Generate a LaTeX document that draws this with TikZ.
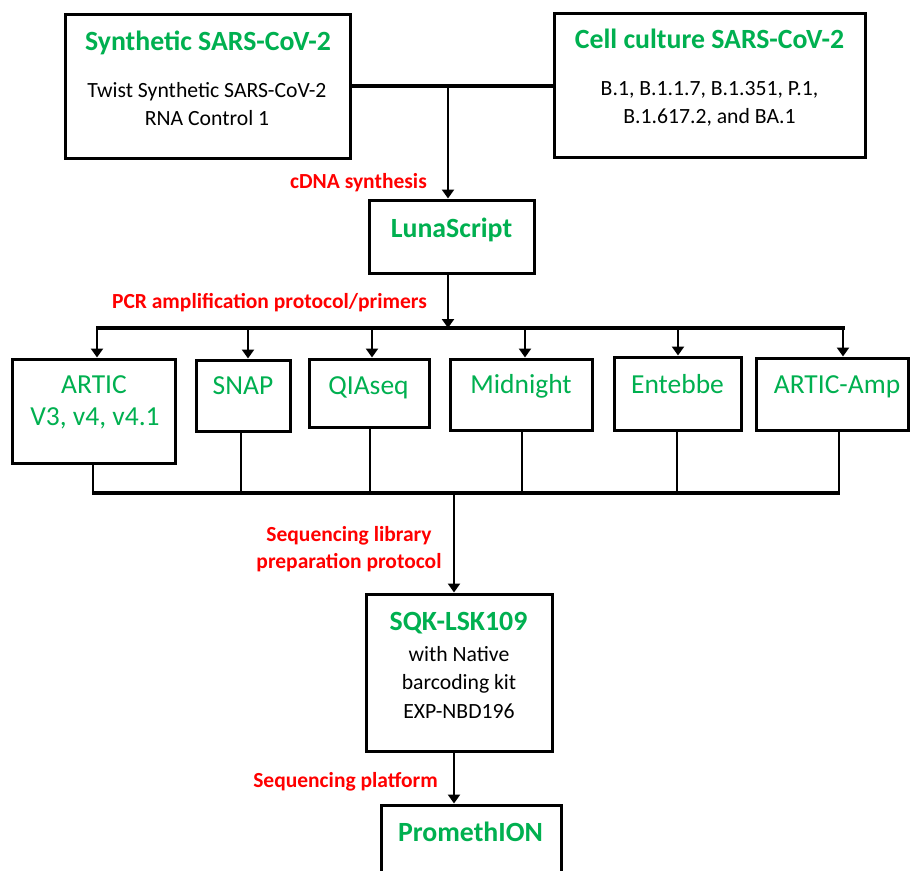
\documentclass[tikz,border=0pt]{standalone}
\usepackage{fontspec}
\setmainfont{Carlito}
\usetikzlibrary{arrows.meta}
\definecolor{ggreen}{RGB}{0,176,80}
\definecolor{rred}{RGB}{255,0,0}
\begin{document}
\begin{tikzpicture}[x=1pt,y=-1pt,
  box/.style={draw, line width=3pt, inner sep=0pt, fill=white},
  ttl/.style={text=ggreen, font=\fontsize{27.8}{33}\selectfont\bfseries, anchor=base, inner sep=0pt},
  prim/.style={text=ggreen, font=\fontsize{27.5}{33}\selectfont, anchor=base, inner sep=0pt},
  body/.style={font=\fontsize{21.7}{28}\selectfont, anchor=base, inner sep=0pt},
  lbl/.style={text=rred, font=\fontsize{21.5}{27}\selectfont\bfseries, inner sep=0pt},
  arr/.style={line width=2.8pt, -{Triangle[width=12pt,length=9pt]}},
  link/.style={line width=4pt},
  bus/.style={line width=3.5pt},
  riser/.style={line width=2pt}]
\clip (0,0) rectangle (910,870);
\fill[white] (0,0) rectangle (910,870);

% boxes
\node[box, minimum width=285pt, minimum height=144pt] (syn) at (207.5,86) {};
\node[box, minimum width=311pt, minimum height=144pt] (cell) at (709.5,85) {};
\node[box, minimum width=165pt, minimum height=73pt] (luna) at (451.5,236.5) {};
\node[box, minimum width=163pt, minimum height=104pt] (artic) at (93.5,411) {};
\node[box, minimum width=94pt, minimum height=71pt] (snap) at (243,395.5) {};
\node[box, minimum width=120pt, minimum height=68pt] (qia) at (369,393) {};
\node[box, minimum width=142pt, minimum height=71pt] (mid) at (521,394.5) {};
\node[box, minimum width=127pt, minimum height=73pt] (ent) at (677.5,393.5) {};
\node[box, minimum width=152pt, minimum height=72pt] (amp) at (832,394) {};
\node[box, minimum width=186pt, minimum height=157pt] (sqk) at (459,672.5) {};
\node[box, minimum width=180pt, minimum height=80pt] (prom) at (471,845) {};

% texts
\node[ttl] (synT) at (208,50) {Synthetic SARS-CoV-2};
\node[body] (synA) at (207,97) {Twist Synthetic SARS-CoV-2};
\node[body] (synB) at (207,125) {RNA Control 1};
\node[ttl] (cellT) at (709.5,48) {Cell culture SARS-CoV-2};
\node[body] (cellA) at (709.5,95) {B.1, B.1.1.7, B.1.351, P.1,};
\node[body] (cellB) at (709.5,123) {B.1.617.2, and BA.1};
\node[ttl] (lunaT) at (451.5,237) {LunaScript};
\node[prim] (articT) at (94,393) {ARTIC};
\node[prim] (articB) at (95,425) {V3, v4, v4.1};
\node[prim] (snapT) at (243,394) {SNAP};
\node[prim] (qiaT) at (368.5,394) {QIAseq};
\node[prim] (midT) at (521,393) {Midnight};
\node[prim] (entT) at (677.5,393) {Entebbe};
\node[prim] (ampT) at (837,393) {ARTIC-Amp};
\node[ttl] (sqkT) at (458.5,630) {SQK-LSK109};
\node[body] (sqkA) at (459,661) {with Native};
\node[body] (sqkB) at (459,689) {barcoding kit};
\node[body] (sqkC) at (459,718) {EXP-NBD196};
\node[ttl] (promT) at (470.5,841) {PromethION};

% labels
\node[lbl, anchor=base east] (l1) at (427,188) {cDNA synthesis};
\node[lbl, anchor=base east] (l2) at (427,308) {PCR amplification protocol/primers};
\node[lbl, anchor=base, align=center] (l3a) at (349,541) {Sequencing library};
\node[lbl, anchor=base, align=center] (l3b) at (349,568) {preparation protocol};
\node[lbl, anchor=base east] (l4) at (438,787) {Sequencing platform};

% connectors
\coordinate (j0) at (448,86);
\draw[link] (syn.east) -- (cell.west |- syn.east);
\draw[arr] (j0) -- (j0 |- luna.north);
\coordinate (b1) at (448,328);
\draw[arr] (b1 |- luna.south) -- (b1);
\coordinate (bl) at (96,328);
\coordinate (br) at (845,328);
\draw[bus] (bl) -- (br);
\coordinate (d1) at (97,328);
\coordinate (d2) at (248,328);
\coordinate (d3) at (372,328);
\coordinate (d4) at (525,328);
\coordinate (d5) at (678,328);
\coordinate (d6) at (843,328);
\draw[arr] (d1) -- (d1 |- artic.north);
\draw[arr] (d2) -- (d2 |- snap.north);
\draw[arr] (d3) -- (d3 |- qia.north);
\draw[arr] (d4) -- (d4 |- mid.north);
\draw[arr] (d5) -- (d5 |- ent.north);
\draw[arr] (d6) -- (d6 |- amp.north);
\coordinate (r1) at (93,493);
\coordinate (r2) at (241,493);
\coordinate (r3) at (370,493);
\coordinate (r4) at (522,493);
\coordinate (r5) at (677,493);
\coordinate (r6) at (839,493);
\draw[riser] (r1 |- artic.south) -- (r1);
\draw[riser] (r2 |- snap.south) -- (r2);
\draw[riser] (r3 |- qia.south) -- (r3);
\draw[riser] (r4 |- mid.south) -- (r4);
\draw[riser] (r5 |- ent.south) -- (r5);
\draw[riser] (r6 |- amp.south) -- (r6);
\draw[bus] ([xshift=-1pt]r1) -- ([xshift=1pt]r6);
\coordinate (j2) at (454,493);
\draw[arr] (j2) -- (j2 |- sqk.north);
\draw[arr] (j2 |- sqk.south) -- (j2 |- prom.north);
\end{tikzpicture}
\end{document}
